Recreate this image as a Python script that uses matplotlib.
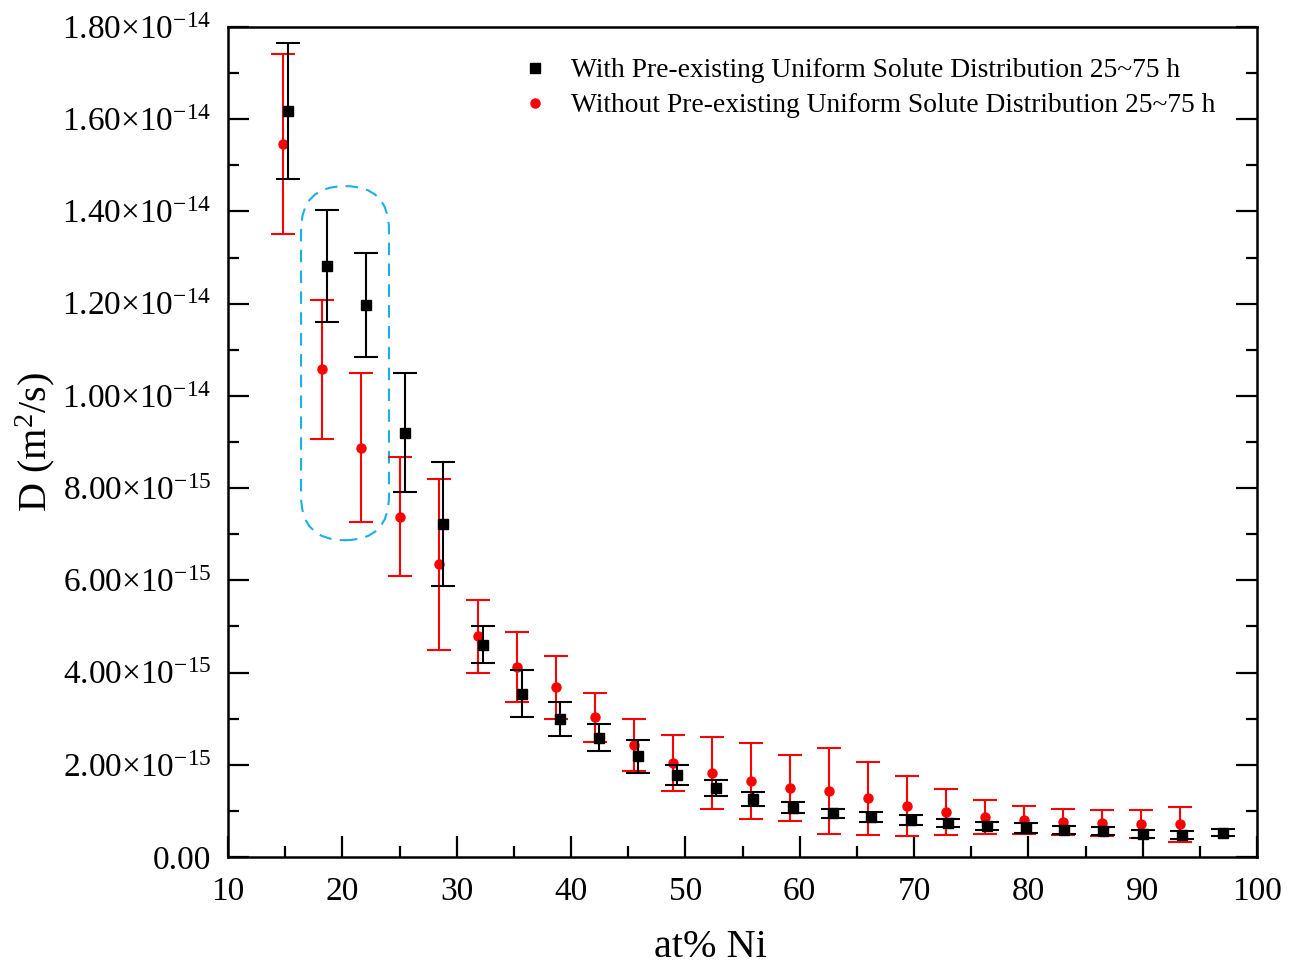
import matplotlib
matplotlib.use("Agg")
import matplotlib.pyplot as plt
from matplotlib.patches import FancyBboxPatch
from matplotlib.lines import Line2D
from matplotlib.ticker import FixedLocator, MultipleLocator
import numpy as np

# Composition (at% Ni) and diffusivity D, in units of 1e-15 m^2/s
x_with = [15.25, 18.66, 22.07, 25.48, 28.8, 32.3, 35.69, 39.04, 42.48, 45.89,
          49.3, 52.68, 55.95, 59.45, 62.9, 66.2, 69.7, 73.0, 76.36, 79.77,
          83.12, 86.56, 90.0, 93.4, 97.0]
d_with = [16.18, 12.82, 11.97, 9.20, 7.22, 4.60, 3.54, 3.00, 2.59, 2.18,
          1.78, 1.50, 1.26, 1.07, 0.945, 0.87, 0.80, 0.74, 0.67, 0.62,
          0.58, 0.56, 0.50, 0.48, 0.53]
err_with = [1.47, 1.21, 1.12, 1.29, 1.34, 0.40, 0.51, 0.37, 0.30, 0.36,
            0.22, 0.17, 0.16, 0.12, 0.10, 0.11, 0.11, 0.09, 0.08, 0.11,
            0.09, 0.08, 0.095, 0.09, 0.08]

x_without = [14.81, 18.22, 21.66, 25.07, 28.46, 31.9, 35.3, 38.69, 42.1, 45.5,
             48.95, 52.36, 55.74, 59.15, 62.6, 66.0, 69.41, 72.8, 76.2, 79.6,
             83.06, 86.47, 89.86, 93.28]
d_without = [15.46, 10.58, 8.88, 7.38, 6.35, 4.79, 4.13, 3.68, 3.03, 2.43,
             2.04, 1.83, 1.65, 1.49, 1.43, 1.27, 1.10, 0.97, 0.87, 0.80,
             0.76, 0.73, 0.71, 0.71]
err_without = [1.95, 1.51, 1.62, 1.29, 1.85, 0.79, 0.76, 0.68, 0.53, 0.56,
               0.60, 0.78, 0.82, 0.72, 0.94, 0.79, 0.65, 0.50, 0.37, 0.30,
               0.28, 0.28, 0.30, 0.38]

label_with = "With Pre-existing Uniform Solute Distribution 25~75 h"
label_without = "Without Pre-existing Uniform Solute Distribution 25~75 h"

y_ticks = [0, 2e-15, 4e-15, 6e-15, 8e-15, 1.0e-14, 1.2e-14, 1.4e-14, 1.6e-14, 1.8e-14]
y_tick_labels = ["0.00",
                 r"$\mathregular{2.00{\times}10^{-15}}$",
                 r"$\mathregular{4.00{\times}10^{-15}}$",
                 r"$\mathregular{6.00{\times}10^{-15}}$",
                 r"$\mathregular{8.00{\times}10^{-15}}$",
                 r"$\mathregular{1.00{\times}10^{-14}}$",
                 r"$\mathregular{1.20{\times}10^{-14}}$",
                 r"$\mathregular{1.40{\times}10^{-14}}$",
                 r"$\mathregular{1.60{\times}10^{-14}}$",
                 r"$\mathregular{1.80{\times}10^{-14}}$"]

plt.rcParams["font.family"] = ["Liberation Serif", "DejaVu Serif"]
plt.rcParams["mathtext.fontset"] = "custom"
plt.rcParams["mathtext.rm"] = "Liberation Serif"
plt.rcParams["mathtext.it"] = "Liberation Serif:italic"

scale = 1e-15
W, H = 1299, 966
fig = plt.figure(figsize=(W / 100, H / 100), dpi=100)
ax = fig.add_axes([228 / W, 1 - 857 / H, (1257 - 228) / W, (857 - 27) / H])

ax.errorbar(x_without, np.array(d_without) * scale, yerr=np.array(err_without) * scale,
            fmt="o", color="#ff0000", ecolor="#ff0000", markersize=6.5,
            elinewidth=1.5, capsize=8.5, capthick=1.5, zorder=3)
ax.errorbar(x_with, np.array(d_with) * scale, yerr=np.array(err_with) * scale,
            fmt="s", color="black", ecolor="black", markersize=6.5,
            elinewidth=1.5, capsize=8.5, capthick=1.5, zorder=4)

ax.set_xlim(10, 100)
ax.set_ylim(0, 1.8e-14)

# Dashed stadium outline around the two highlighted compositions
rx = 3.85
ry = 0.954e-15
box = FancyBboxPatch((16.39, 6.87e-15), 24.08 - 16.39, (14.55 - 6.87) * 1e-15,
                     boxstyle=f"round,pad=0,rounding_size={rx}",
                     mutation_aspect=ry / rx, fill=False,
                     edgecolor="#1ab0e6", linewidth=1.5,
                     linestyle=(0, (6, 4)), zorder=2)
ax.add_patch(box)

ax.xaxis.set_major_locator(MultipleLocator(10))
ax.xaxis.set_minor_locator(MultipleLocator(5))
ax.yaxis.set_major_locator(FixedLocator(y_ticks))
ax.yaxis.set_minor_locator(MultipleLocator(1e-15))
ax.set_yticklabels(y_tick_labels)

ax.tick_params(axis="both", which="both", direction="in", top=False, right=True,
               labelsize=24, width=1.6)
ax.tick_params(axis="both", which="major", length=15)
ax.tick_params(axis="both", which="minor", length=8)
ax.tick_params(axis="x", pad=14)
ax.tick_params(axis="y", pad=12)
for s in ax.spines.values():
    s.set_linewidth(1.8)

ax.set_xlabel("at% Ni", fontsize=29, va="baseline", ha="center")
ax.xaxis.set_label_coords((710 - 228) / 1029, -(957 - 857) / 830)
ax.set_ylabel(r"D (m$^2$/s)", fontsize=29, va="center", ha="center")
ax.yaxis.set_label_coords((35 - 228) / 1029, 0.5)

h_with = Line2D([], [], marker="s", color="black", linestyle="none", markersize=6.5)
h_without = Line2D([], [], marker="o", color="#ff0000", linestyle="none", markersize=6.5)
ax.legend([h_with, h_without], [label_with, label_without], loc="upper left",
          bbox_to_anchor=((521 - 228) / 1029, (857 - 58) / 830), frameon=False,
          fontsize=19.8, handlelength=1.0, handletextpad=0.83, labelspacing=0.36,
          borderpad=0, borderaxespad=0)

fig.savefig("out.png", dpi=100)
